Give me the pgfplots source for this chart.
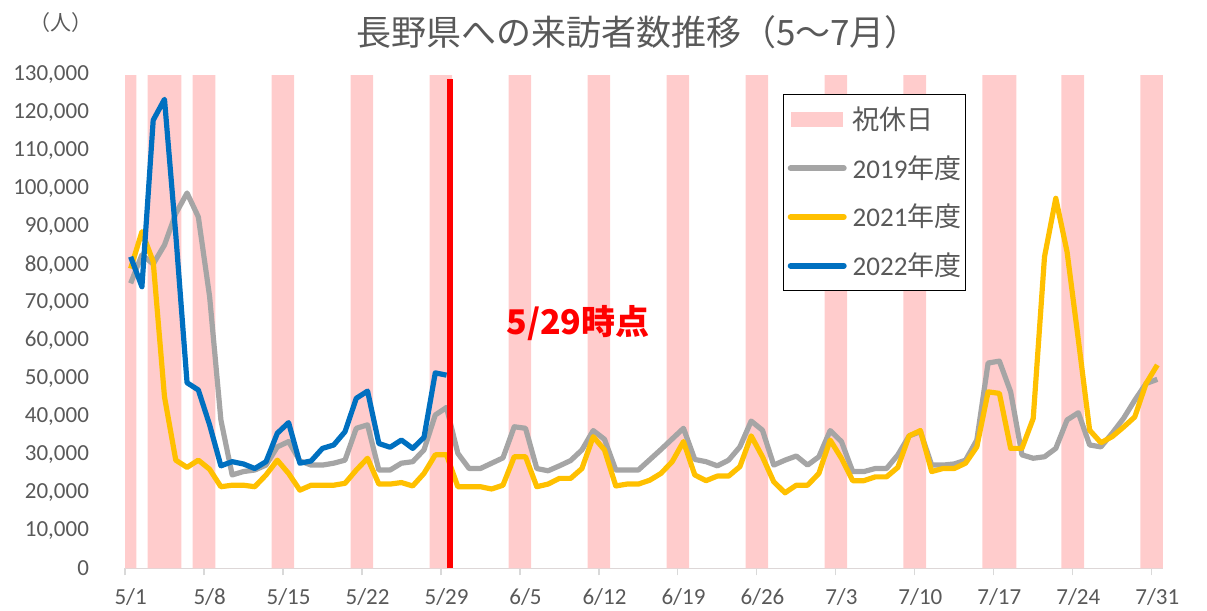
\documentclass[border=0pt]{standalone}
\usepackage{fontspec}
\setmainfont{Carlito}
\newfontfamily\jpf{Noto Sans CJK JP}
\usepackage{pgfplots}
\pgfplotsset{compat=1.18}
\usepackage{pgfplotstable}
\definecolor{g19}{HTML}{A5A5A5}
\definecolor{y21}{HTML}{FFC000}
\definecolor{b22}{HTML}{0070C0}
\definecolor{hol}{HTML}{FFCCCC}
\definecolor{txt}{HTML}{595959}
\definecolor{axl}{HTML}{D9D9D9}

\pgfplotstableread{
x y
0 75100
1 82600
2 80200
3 85200
4 93500
5 98900
6 92600
7 71600
8 39100
9 24600
10 25500
11 25900
12 27200
13 32000
14 33400
15 28300
16 27200
17 27200
18 27700
19 28500
20 36900
21 37800
22 25900
23 25900
24 27700
25 28100
26 31200
27 40400
28 42400
29 30300
30 26300
31 26300
32 27700
33 29100
34 37300
35 36900
36 26300
37 25700
38 27000
39 28400
40 31200
41 36300
42 34000
43 25900
44 25900
45 25900
46 28600
47 31300
48 34100
49 36900
50 28700
51 28100
52 27000
53 28500
54 32000
55 38800
56 36400
57 27200
58 28500
59 29600
60 27200
61 29400
62 36300
63 33400
64 25500
65 25500
66 26300
67 26300
68 29900
69 34900
70 36000
71 27200
72 27200
73 27500
74 28500
75 33800
76 54100
77 54600
78 46500
79 29900
80 29000
81 29400
82 31600
83 39100
84 41000
85 32500
86 32000
87 35600
88 39500
89 44300
90 48700
91 49800
}\dataA

\pgfplotstableread{
x y
0 79000
1 88700
2 80800
3 45200
4 28500
5 26600
6 28500
7 26100
8 21500
9 21900
10 21900
11 21500
12 24600
13 28500
14 25000
15 20600
16 21900
17 21900
18 21900
19 22400
20 25900
21 29000
22 22200
23 22200
24 22600
25 21700
26 25000
27 29900
28 29900
29 21500
30 21500
31 21500
32 20900
33 21900
34 29400
35 29400
36 21500
37 22200
38 23700
39 23700
40 26300
41 34700
42 31200
43 21700
44 22200
45 22200
46 23200
47 25000
48 28100
49 33400
50 24600
51 23100
52 24300
53 24300
54 26800
55 34900
56 29400
57 22800
58 19900
59 21900
60 21900
61 25000
62 33800
63 29000
64 23100
65 23100
66 24100
67 24100
68 26600
69 34900
70 36300
71 25500
72 26300
73 26300
74 27700
75 32000
76 46500
77 46100
78 31600
79 31600
80 39500
81 82100
82 97500
83 83400
84 60200
85 36400
86 33100
87 34700
88 37200
89 39900
90 48700
91 53600
}\dataB

\pgfplotstableread{
x y
0 82100
1 74200
2 118100
3 123600
4 88000
5 48900
6 47000
7 37800
8 27000
9 28100
10 27500
11 26300
12 28100
13 35600
14 38400
15 27700
16 28300
17 31600
18 32500
19 36000
20 44800
21 46700
22 32900
23 31900
24 33800
25 31600
26 34500
27 51500
28 50900
}\dataC

\begin{document}
\begin{tikzpicture}[x=1pt,y=1pt]
\path[use as bounding box] (0,0) rectangle (603.5,-305.5);
\begin{axis}[
  at={(62.5pt,-284.15pt)}, anchor=south west,
  scale only axis, width=519pt, height=246.65pt,
  xmin=-0.5, xmax=91.5, ymin=0, ymax=130000,
  axis x line*=bottom, axis y line*=left,
  x axis line style={draw=axl, line width=0.65pt},
  y axis line style={draw=none},
  xtick={-0.5,6.5,13.5,20.5,27.5,34.5,41.5,48.5,55.5,62.5,69.5,76.5,83.5,90.5},
  xticklabels={5/1,5/8,5/15,5/22,5/29,6/5,6/12,6/19,6/26,7/3,7/10,7/17,7/24,7/31},
  x tick style={draw=axl, line width=0.65pt},
  major tick length=3.5pt, tick align=outside,
  ytick={0,10000,20000,30000,40000,50000,60000,70000,80000,90000,100000,110000,120000,130000},
  yticklabels={0,{10,000},{20,000},{30,000},{40,000},{50,000},{60,000},{70,000},{80,000},{90,000},{100,000},{110,000},{120,000},{130,000}},
  y tick style={draw=none},
  scaled y ticks=false, scaled x ticks=false,
  tick label style={font=\fontsize{11.5}{13}\selectfont, text=txt},
  xticklabel style={xshift=2.82pt, yshift=-3.2pt},
  yticklabel style={xshift=-11pt},
  clip=false,
  legend style={at={(0.634,0.9615)}, anchor=north west, draw=black, line width=0.65pt,
    fill=white, inner xsep=2pt, inner ysep=4pt, row sep=7.5pt, column sep=3pt,
    font=\fontsize{13.5}{15}\selectfont, text=txt, nodes={inner xsep=0pt}},
  legend cell align=left,
]
\addplot[const plot, fill=hol, draw=none,
  legend image code/.code={\fill[hol] (0pt,-3.75pt) rectangle (26pt,3.75pt);}]
  coordinates {(-0.5,130000) (0.5,0) (1.5,130000) (4.5,0) (5.5,130000) (7.5,0)
  (12.5,130000) (14.5,0) (19.5,130000) (21.5,0) (26.5,130000) (28.5,0)
  (33.5,130000) (35.5,0) (40.5,130000) (42.5,0) (47.5,130000) (49.5,0)
  (54.5,130000) (56.5,0) (61.5,130000) (63.5,0) (68.5,130000) (70.5,0)
  (75.5,130000) (78.5,0) (82.5,130000) (84.5,0) (89.5,130000) (91.5,130000)} \closedcycle;
\addlegendentry{{\jpf 祝休日}}
\addplot[g19, line width=2.6pt, line join=round,
  legend image code/.code={\draw[g19, line width=3pt, line cap=round] (0pt,0pt) -- (26.5pt,0pt);}]
  table[x=x,y=y] {\dataA};
\addlegendentry{2019{\jpf 年度}}
\addplot[y21, line width=2.6pt, line join=round,
  legend image code/.code={\draw[y21, line width=3pt, line cap=round] (0pt,0pt) -- (26.5pt,0pt);}]
  table[x=x,y=y] {\dataB};
\addlegendentry{2021{\jpf 年度}}
\addplot[b22, line width=2.6pt, line join=round,
  legend image code/.code={\draw[b22, line width=3pt, line cap=round] (0pt,0pt) -- (26.5pt,0pt);}]
  table[x=x,y=y] {\dataC};
\addlegendentry{2022{\jpf 年度}}
\addplot[red, line width=2.65pt, forget plot] coordinates {(28.31,0) (28.31,128900)};
\end{axis}
\node[text=txt, font=\jpf\fontsize{17.5}{20}\selectfont] at (319,-16) {長野県への来訪者数推移（5〜7月）};
\node[text=txt, font=\jpf\fontsize{10.5}{12}\selectfont] at (30.5,-11.5) {（人）};
\node[text=red, font=\jpf\bfseries\fontsize{17}{19}\selectfont] at (289,-161.5) {5/29時点};
\end{tikzpicture}
\end{document}
